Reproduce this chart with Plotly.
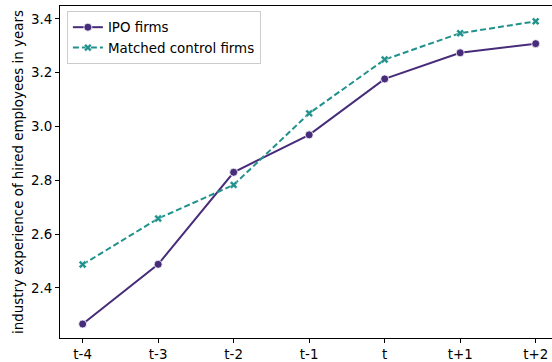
import plotly.graph_objects as go

# Event-time labels relative to the IPO year
periods = ["t-4", "t-3", "t-2", "t-1", "t", "t+1", "t+2"]

# Average industry experience (years) of employees hired in each period
ipo_firms = [2.266, 2.488, 2.830, 2.969, 3.177, 3.274, 3.308]
control_firms = [2.487, 2.658, 2.783, 3.049, 3.249, 3.347, 3.391]

y_ticks = [2.4, 2.6, 2.8, 3.0, 3.2, 3.4]

PURPLE = "#472c7a"
TEAL = "#21918c"
FONT = "DejaVu Sans"
FS = 13.4

xpos = list(range(len(periods)))

fig = go.Figure()
fig.add_trace(go.Scatter(
    x=xpos, y=ipo_firms, name="IPO firms", mode="lines+markers",
    line=dict(color=PURPLE, width=2),
    marker=dict(symbol="circle", size=8, color=PURPLE,
                line=dict(color="white", width=0.8)),
))
fig.add_trace(go.Scatter(
    x=xpos, y=control_firms, name="Matched control firms", mode="lines+markers",
    line=dict(color=TEAL, width=2, dash="6px,3px"),
    marker=dict(symbol="x", size=7, color=TEAL,
                line=dict(color="white", width=0.5)),
))

fig.update_layout(
    width=552, height=362,
    margin=dict(l=60, r=0, t=6, b=24),
    paper_bgcolor="white", plot_bgcolor="white",
    font=dict(family=FONT, size=FS, color="black"),
    showlegend=True,
    legend=dict(
        x=0.014, y=0.985, xanchor="left", yanchor="top",
        bgcolor="rgba(255,255,255,0.8)", bordercolor="#cccccc", borderwidth=1,
        font=dict(family=FONT, size=FS, color="black"),
        itemwidth=30, tracegroupgap=0,
    ),
)

fig.update_xaxes(
    range=[-0.3, 6.216],
    tickmode="array", tickvals=xpos, ticktext=periods,
    showgrid=False, zeroline=False,
    showline=True, linecolor="black", linewidth=1, mirror=True,
    ticks="outside", ticklen=4, tickwidth=1, tickcolor="black",
)
fig.update_yaxes(
    range=[2.214, 3.448],
    tickmode="array", tickvals=y_ticks, ticktext=[f"{v:.1f}" for v in y_ticks],
    showgrid=False, zeroline=False,
    showline=True, linecolor="black", linewidth=1, mirror=False,
    ticks="outside", ticklen=4, tickwidth=1, tickcolor="black",
    title=dict(text="industry experience of hired employees in years",
               font=dict(family=FONT, size=FS), standoff=4),
)

fig.write_html("out.html")
